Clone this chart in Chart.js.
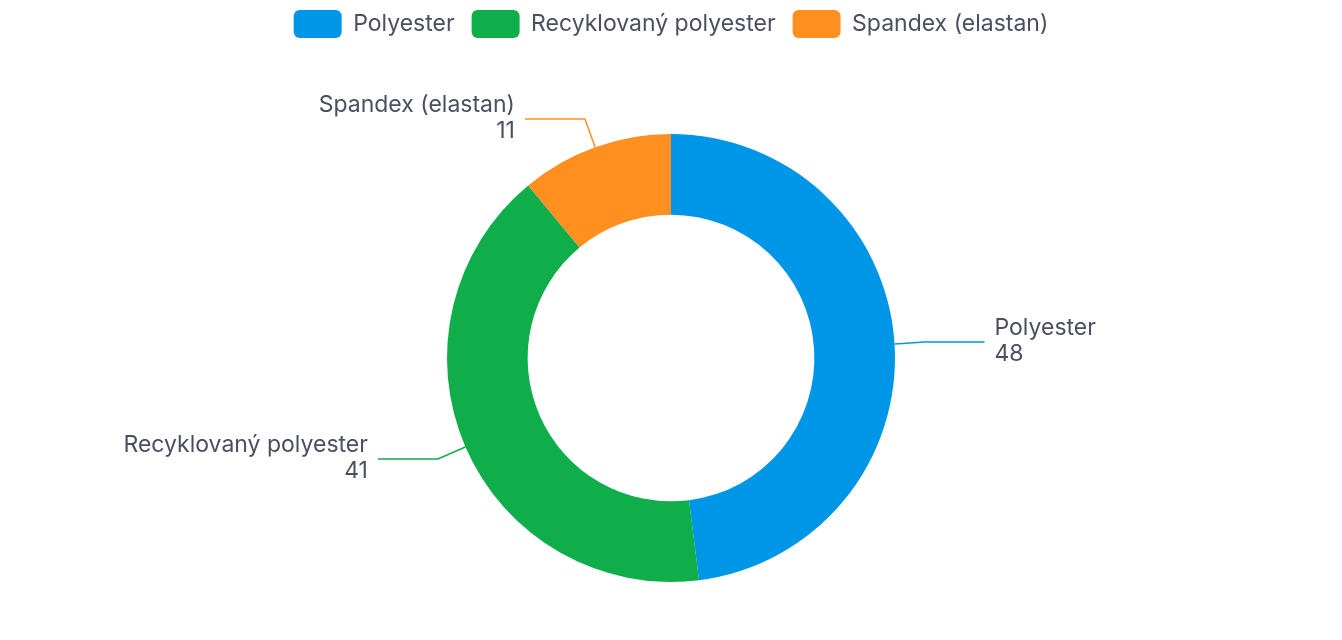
<!DOCTYPE html>
<html>
<head>
<meta charset="utf-8">
<script src="https://cdn.jsdelivr.net/npm/chart.js@4.4.0/dist/chart.umd.min.js"></script>
<style>
  html, body { margin: 0; padding: 0; background: #ffffff; }
  #wrap { width: 1342px; height: 640px; }
</style>
</head>
<body>
<div id="wrap"><canvas id="fiberChart"></canvas></div>
<script>
// Composition data
const materials = ['Polyester', 'Recyklovaný polyester', 'Spandex (elastan)'];
const shares = [48, 41, 11];
const sliceColors = ['#0096e8', '#10ad4b', '#ff9020'];

const textColor = '#4b5060';
const fontFamily = 'Inter, "Noto Sans", sans-serif';
const fontSize = 23;

// Push the doughnut down below the legend
const legendSpacer = {
    id: 'legendSpacer',
    beforeInit(chart) {
        const origFit = chart.legend.fit;
        chart.legend.fit = function() {
            origFit.bind(chart.legend)();
            this.height += 86;
        };
    }
};

// Draws the callout lines and the two-line labels next to each slice
const calloutPlugin = {
    id: 'callouts',
    afterDatasetsDraw(chart) {
        const ctx = chart.ctx;
        const meta = chart.getDatasetMeta(0);
        meta.data.forEach((arc, i) => {
            const mid = (arc.startAngle + arc.endAngle) / 2;
            const cos = Math.cos(mid);
            const sin = Math.sin(mid);
            const x0 = arc.x + cos * arc.outerRadius;
            const y0 = arc.y + sin * arc.outerRadius;
            const x1 = arc.x + cos * (arc.outerRadius + 30);
            const y1 = arc.y + sin * (arc.outerRadius + 30);
            const dir = cos >= 0 ? 1 : -1;
            const x2 = x1 + dir * 60;

            ctx.save();
            ctx.strokeStyle = sliceColors[i];
            ctx.lineWidth = 1.5;
            ctx.beginPath();
            ctx.moveTo(x0, y0);
            ctx.lineTo(x1, y1);
            ctx.lineTo(x2, y1);
            ctx.stroke();

            ctx.fillStyle = textColor;
            ctx.font = fontSize + 'px ' + fontFamily;
            ctx.textAlign = dir > 0 ? 'left' : 'right';
            ctx.textBaseline = 'middle';
            const tx = x2 + dir * 10;
            ctx.fillText(materials[i], tx, y1 - 14);
            ctx.fillText(String(shares[i]), tx, y1 + 12);
            ctx.restore();
        });
    }
};

document.addEventListener('DOMContentLoaded', function() {
    const ctx = document.getElementById('fiberChart');

    new Chart(ctx, {
        type: 'doughnut',
        data: {
            labels: materials,
            datasets: [{
                data: shares,
                backgroundColor: sliceColors,
                borderWidth: 0,
                hoverOffset: 0
            }]
        },
        options: {
            responsive: true,
            maintainAspectRatio: false,
            animation: false,
            cutout: '64%',
            layout: {
                padding: { top: -7, bottom: 58 }
            },
            plugins: {
                legend: {
                    position: 'top',
                    labels: {
                        boxWidth: 48,
                        boxHeight: 28,
                        useBorderRadius: true,
                        borderRadius: 6,
                        padding: 17,
                        color: textColor,
                        font: { family: fontFamily, size: fontSize }
                    }
                },
                tooltip: { enabled: false }
            }
        },
        plugins: [legendSpacer, calloutPlugin]
    });
});
</script>
</body>
</html>
